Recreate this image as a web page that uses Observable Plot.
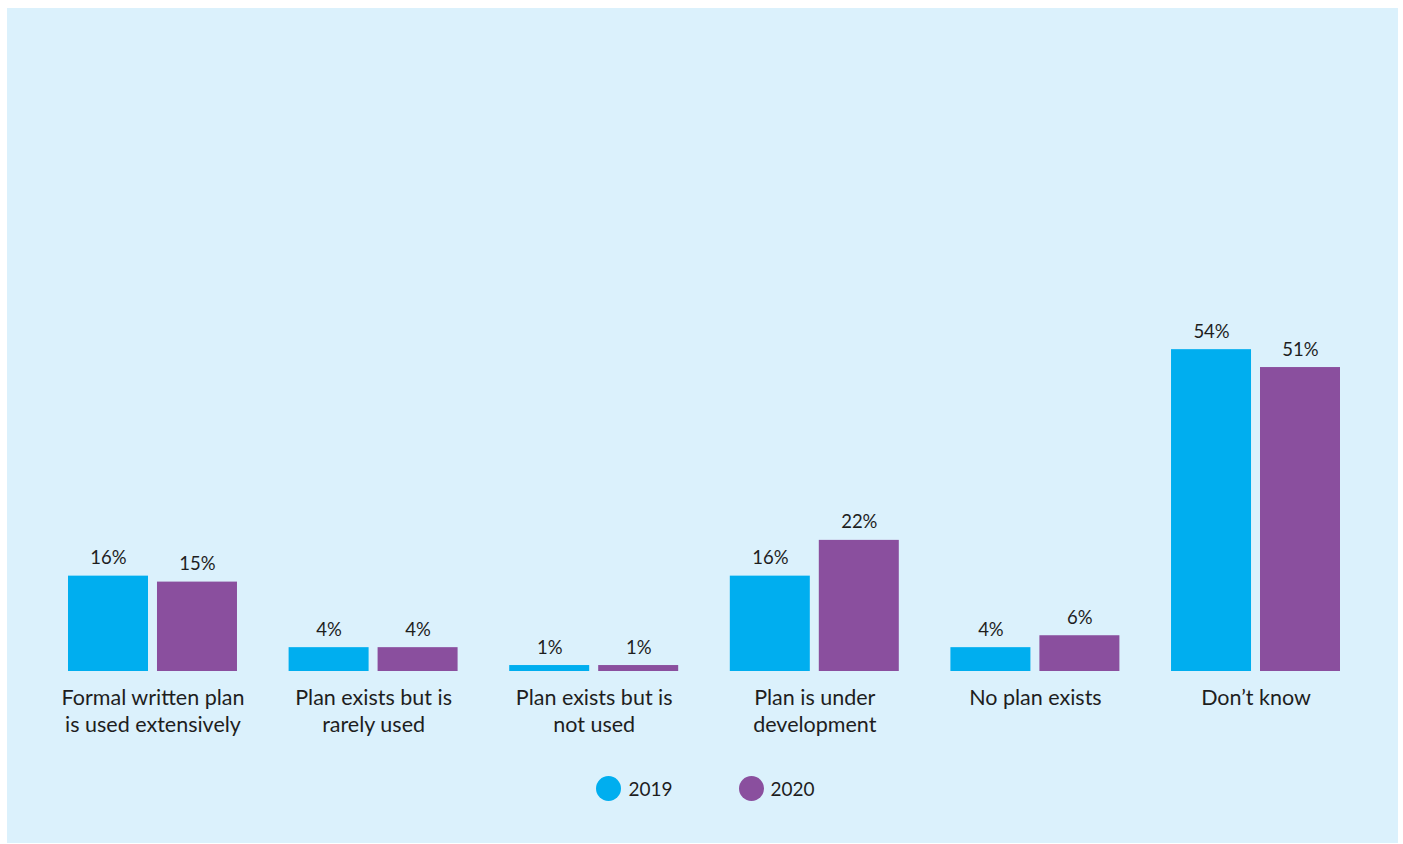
<!DOCTYPE html>
<html><head><meta charset="utf-8">
<script src="https://cdn.jsdelivr.net/npm/d3@7"></script>
<script src="https://cdn.jsdelivr.net/npm/@observablehq/plot@0.6"></script>
<style>
html,body{margin:0;padding:0;background:#fff;}
#panel{position:absolute;left:7px;top:8px;width:1391px;height:835px;background:#dbf1fc;font-family:Lato,"Noto Sans",sans-serif;color:#1e1e1e;}
#legend{display:flex;justify-content:center;align-items:center;gap:0;height:40px;font-size:19px;padding-left:6px;}
.item{display:flex;align-items:center;margin:0 33px;}
.sw{width:25px;height:25px;border-radius:50%;margin-right:7px;}
</style></head>
<body><div id="panel"><div id="chart"></div><div id="legend"></div></div>
<script>
const categories = ["Formal written plan\nis used extensively","Plan exists but is\nrarely used","Plan exists but is\nnot used","Plan is under\ndevelopment","No plan exists","Don\u2019t know"];
const years = ["2019","2020"];
const values2019 = [16,4,1,16,4,54];
const values2020 = [15,4,1,22,6,51];
const colors = ["#00aeef","#8a4f9e"];

const data = [];
categories.forEach((c,i)=>{
  data.push({cat:c, year:years[0], v:values2019[i]});
  data.push({cat:c, year:years[1], v:values2020[i]});
});

const chart = Plot.plot({
  width:1391, height:760,
  marginLeft:61, marginRight:58, marginTop:67, marginBottom:97,
  style:{background:"transparent", fontFamily:"Lato, 'Noto Sans', sans-serif", color:"#1e1e1e"},
  fx:{domain:categories, paddingInner:0.234, paddingOuter:0, label:null, round:false},
  x:{domain:years, paddingInner:0.101, paddingOuter:0, axis:null, round:false},
  y:{domain:[0,100], axis:null},
  color:{domain:years, range:colors},
  marks:[
    Plot.barY(data,{fx:"cat", x:"year", y:"v", fill:"year"}),
    Plot.text(data,{fx:"cat", x:"year", y:"v", text:d=>d.v+"%", dy:-12, lineAnchor:"bottom", fontSize:18.5, fill:"#1e1e1e"}),
    Plot.axisFx({anchor:"bottom", tickSize:0, tickPadding:14, fontSize:21.5, lineHeight:1.26, label:null, lineAnchor:"top"})
  ]
});
document.getElementById("chart").appendChild(chart);

const lg = document.getElementById("legend");
years.forEach((y,i)=>{
  const it=document.createElement("div"); it.className="item";
  it.innerHTML=`<div class="sw" style="background:${colors[i]}"></div><span>${y}</span>`;
  lg.appendChild(it);
});
</script></body></html>
